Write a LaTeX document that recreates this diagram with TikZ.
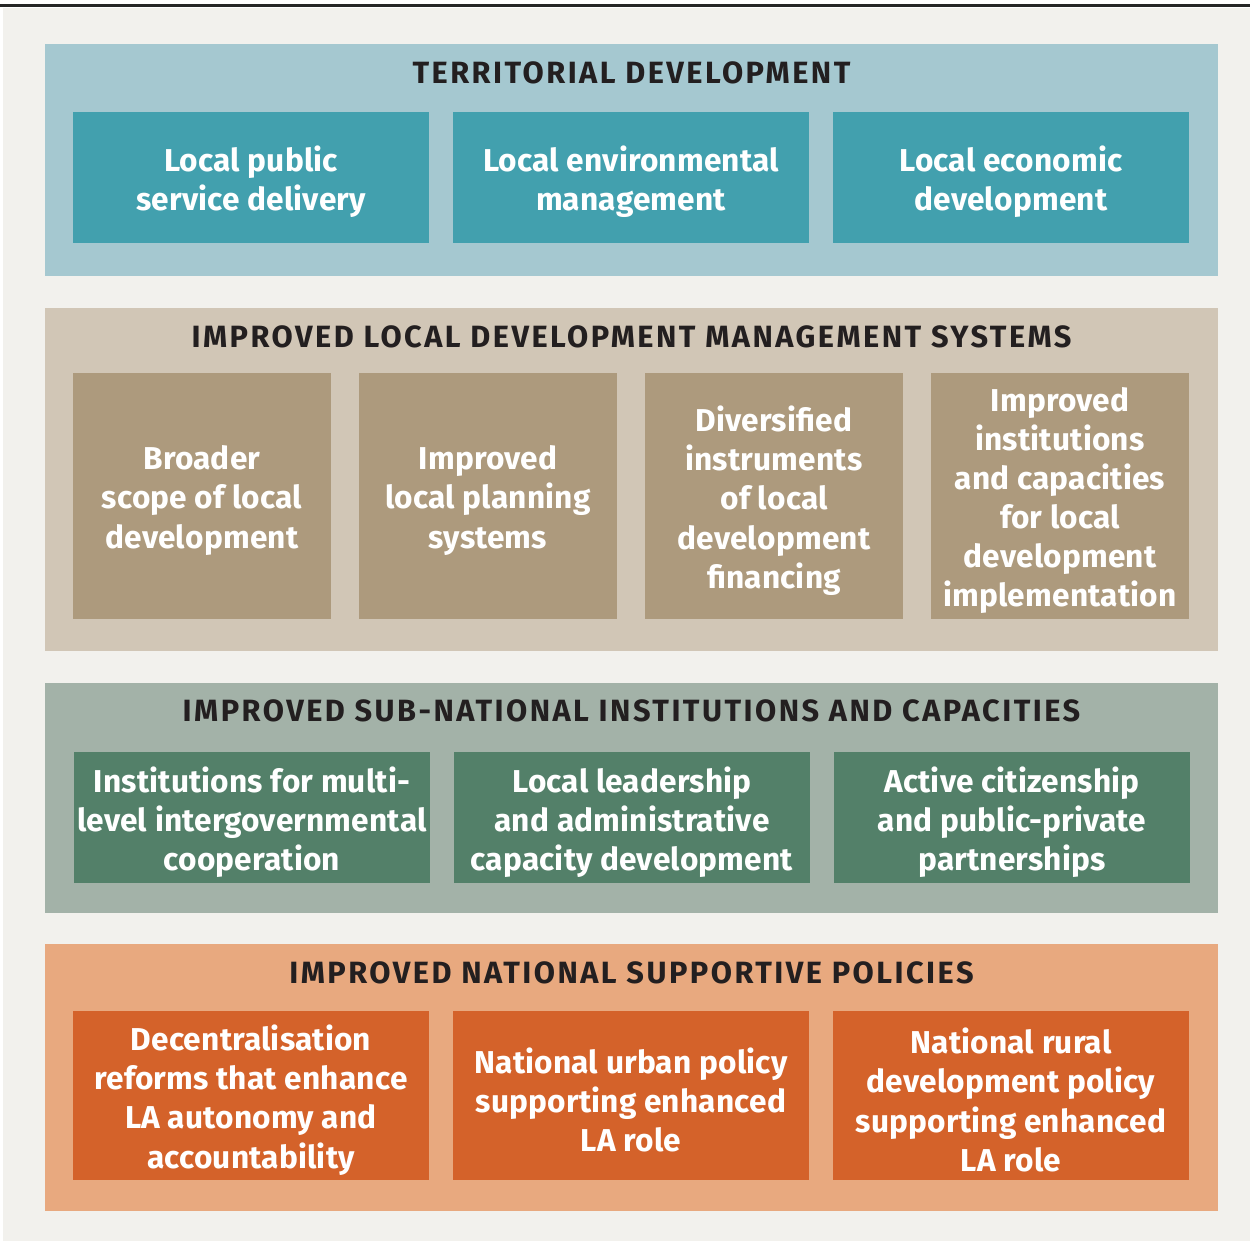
\documentclass[tikz,border=0pt]{standalone}
\usepackage{fontspec}
\setmainfont{Fira Sans}
\usepackage{tikz}
\usetikzlibrary{positioning}
\definecolor{pagegrey}{HTML}{F2F1ED}
\definecolor{terrpale}{HTML}{A5C8D0}
\definecolor{terrbox}{HTML}{42A0AE}
\definecolor{ldmspale}{HTML}{D1C6B6}
\definecolor{ldmsbox}{HTML}{AD9A7D}
\definecolor{subpale}{HTML}{A3B2A8}
\definecolor{subbox}{HTML}{538069}
\definecolor{natpale}{HTML}{E8A97F}
\definecolor{natbox}{HTML}{D4622A}
\definecolor{titleink}{HTML}{231F20}
\newcommand{\boxfont}{\fontsize{18}{22.3}\selectfont\bfseries\addfontfeatures{LetterSpace=0.6}}
\newcommand{\headfont}{\fontsize{17.5}{20}\selectfont\bfseries\addfontfeatures{LetterSpace=8}}

\begin{document}
\begin{tikzpicture}[x=0.02cm,y=-0.02cm]
\tikzstyle{panel}=[rectangle, inner sep=0, minimum width=1173*0.02cm]
\tikzstyle{head}=[text=titleink, font=\headfont, inner sep=0]
\tikzstyle{item}=[rectangle, inner sep=0]
\tikzstyle{wide}=[item, minimum width=356*0.02cm]
\tikzstyle{narrow}=[item, minimum width=258*0.02cm, minimum height=246*0.02cm]
\tikzstyle{words}=[text=white, font=\boxfont, align=center, yshift=-0.09cm]

\useasboundingbox (0,0) rectangle (1250,1241);
\fill[white] (0,0) rectangle (1250,1241);
\fill[pagegrey] (3,8) rectangle (1250,1241);
\fill[black!85] (0,3.5) rectangle (1250,7);

% territorial development
\node[panel, fill=terrpale, minimum height=232*0.02cm] (terr) at (631.5,160) {};
\node[head] (terrhead) at (631.5,73) {TERRITORIAL DEVELOPMENT};
\node[wide, fill=terrbox, minimum height=131*0.02cm] (t_1) at (251,177.5) [label={[words]center:{Local public\\service delivery}}]{};
\node[wide, fill=terrbox, minimum height=131*0.02cm] (t_2) at (631,177.5) [label={[words]center:{Local environmental\\management}}]{};
\node[wide, fill=terrbox, minimum height=131*0.02cm] (t_3) at (1011,177.5) [label={[words]center:{Local economic\\development}}]{};

% local development management systems
\node[panel, fill=ldmspale, minimum height=343*0.02cm] (ldms) at (631.5,479.5) {};
\node[head] (ldmshead) at (631.5,337) {IMPROVED LOCAL DEVELOPMENT MANAGEMENT SYSTEMS};
\node[narrow, fill=ldmsbox] (l_1) at (202,496) [label={[words]center:{Broader\\scope of local\\development}}]{};
\node[narrow, fill=ldmsbox] (l_2) at (488,496) [label={[words]center:{Improved\\local planning\\systems}}]{};
\node[narrow, fill=ldmsbox] (l_3) at (774,496) [label={[words]center:{Diversified\\instruments\\of local\\development\\financing}}]{};
\node[narrow, fill=ldmsbox] (l_4) at (1060,496) [label={[words]center:{Improved\\institutions\\and capacities\\for local\\development\\implementation}}]{};

% sub-national institutions
\node[panel, fill=subpale, minimum height=230*0.02cm] (sub) at (631.5,798) {};
\node[head] (subhead) at (631.5,711) {IMPROVED SUB-NATIONAL INSTITUTIONS AND CAPACITIES};
\node[wide, fill=subbox, minimum height=131*0.02cm] (s_1) at (252,817.5) [label={[words]center:{Institutions for multi-\\level intergovernmental\\cooperation}}]{};
\node[wide, fill=subbox, minimum height=131*0.02cm] (s_2) at (632,817.5) [label={[words]center:{Local leadership\\and administrative\\capacity development}}]{};
\node[wide, fill=subbox, minimum height=131*0.02cm] (s_3) at (1012,817.5) [label={[words]center:{Active citizenship\\and public-private\\partnerships}}]{};

% national supportive policies
\node[panel, fill=natpale, minimum height=267*0.02cm] (nat) at (631.5,1077.5) {};
\node[head] (nathead) at (631.5,973) {IMPROVED NATIONAL SUPPORTIVE POLICIES};
\node[wide, fill=natbox, minimum height=169*0.02cm] (n_1) at (251,1095.5) [label={[words]center:{Decentralisation\\reforms that enhance\\LA autonomy and\\accountability}}]{};
\node[wide, fill=natbox, minimum height=169*0.02cm] (n_2) at (631,1095.5) [label={[words]center:{National urban policy\\supporting enhanced\\LA role}}]{};
\node[wide, fill=natbox, minimum height=169*0.02cm] (n_3) at (1011,1095.5) [label={[words]center:{National rural\\development policy\\supporting enhanced\\LA role}}]{};

\end{tikzpicture}
\end{document}
